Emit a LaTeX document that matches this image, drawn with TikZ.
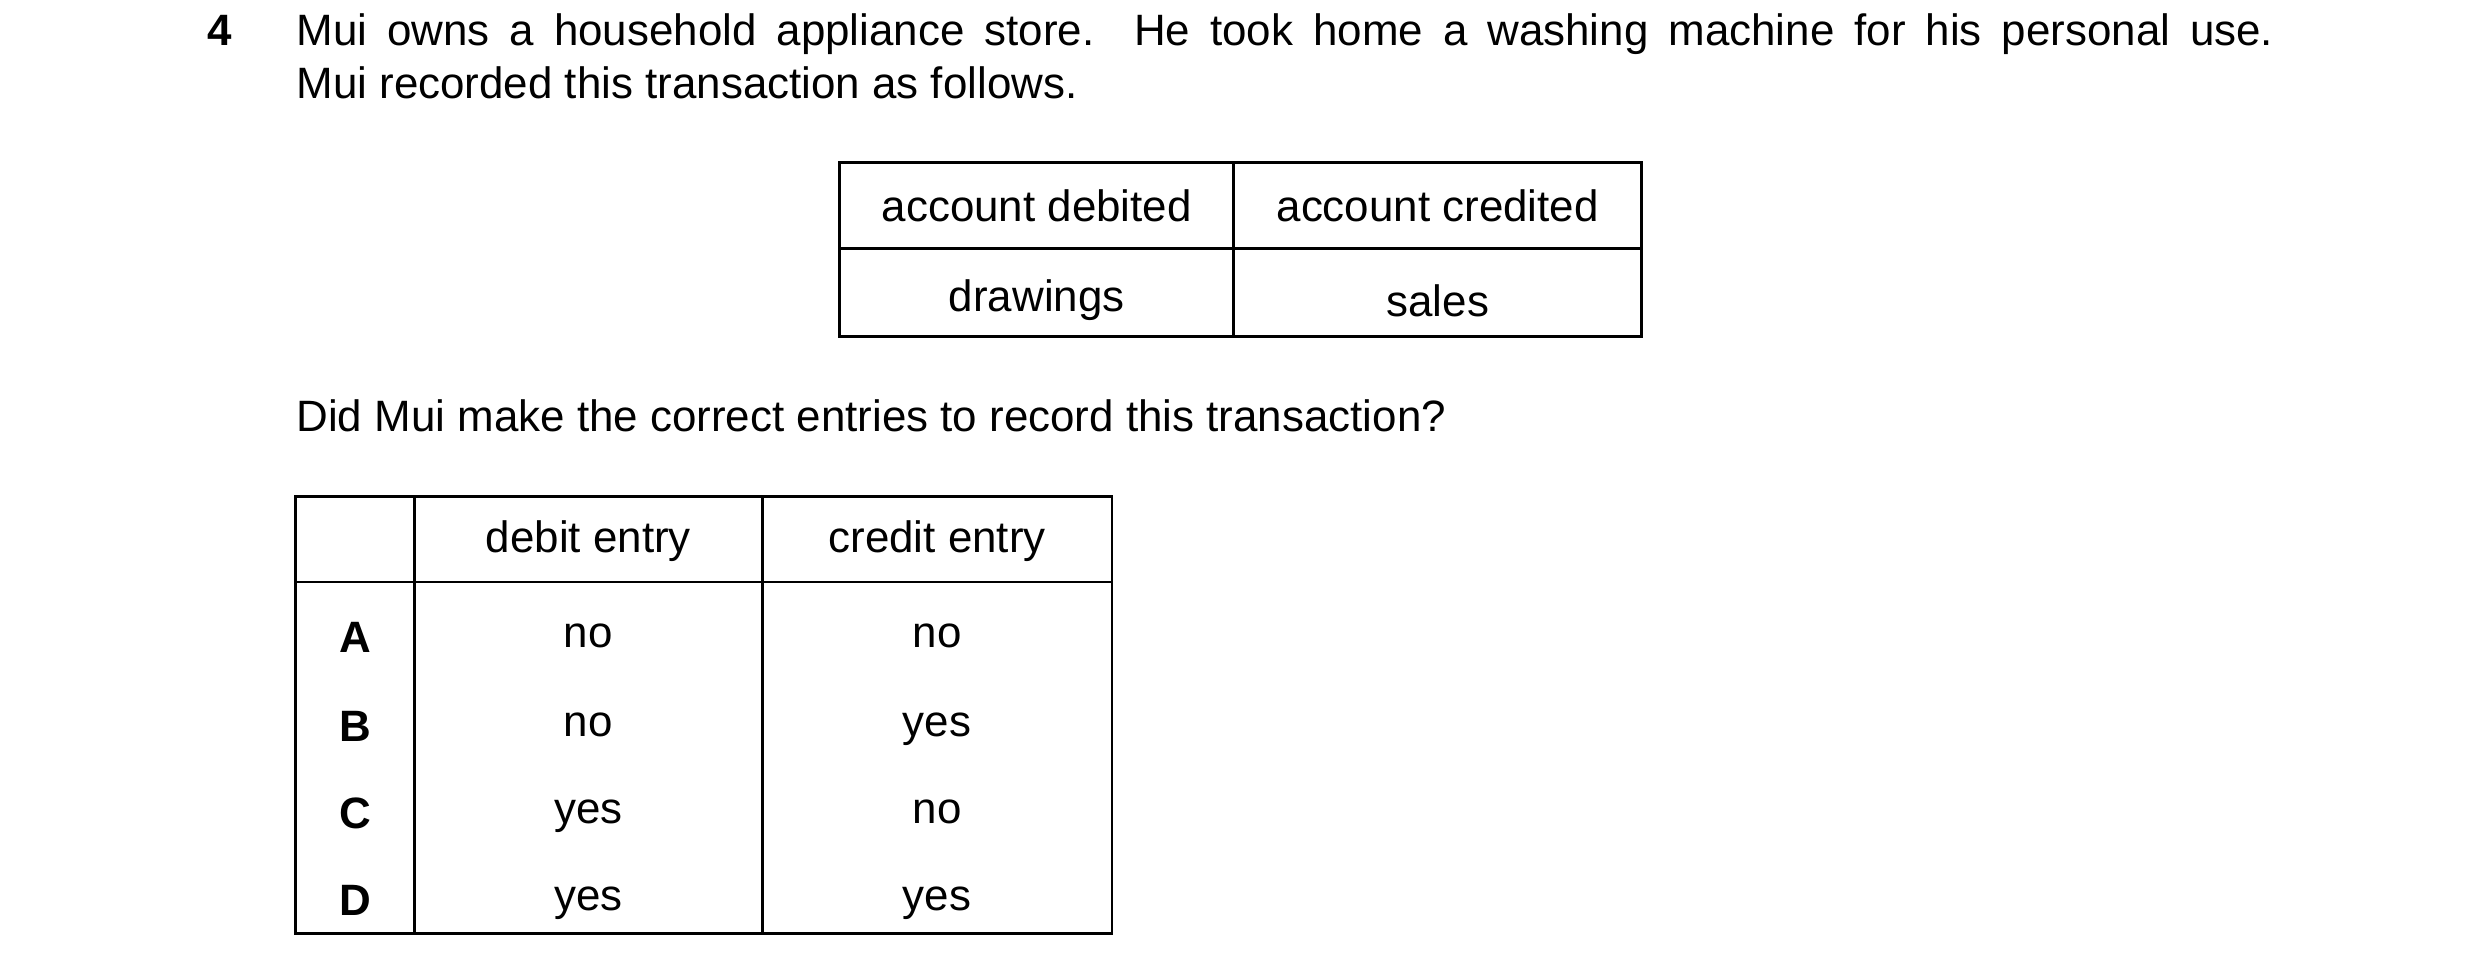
\documentclass[tikz,border=0pt]{standalone}
\usepackage{fontspec}
\setmainfont{Liberation Sans}
\usetikzlibrary{positioning}
\begin{document}
\begin{tikzpicture}[x=0.01582cm, y=-0.01582cm, font=\fontsize{12.5}{15}\selectfont,
    cell/.style={inner sep=0pt, anchor=center},
    grid/.style={line width=0.8pt}]
  \useasboundingbox (0,0) rectangle (1568,616);

  % question text
  \node[anchor=base west, inner sep=0pt, font=\fontsize{12.5}{15}\selectfont\bfseries] (num) at (131,29) {4};
  \node[anchor=base west, inner sep=0pt] (line1) at (187,29)
    {\makebox[1250\dimexpr0.01582cm\relax][s]{Mui owns a household appliance store. He took home a washing machine for his personal use.}};
  \node[anchor=base west, inner sep=0pt] (line2) at (187,62) {Mui recorded this transaction as follows.};

  % first table
  \draw[grid] (531,103) rectangle (1038,213);
  \draw[grid] (531,157) -- (1038,157);
  \draw[grid] (780,103) -- (780,213);
  \node[cell] (deb) at (655.5,130) {account debited};
  \node[cell] (cred) at (909,130) {account credited};
  \node[cell] (draw) at (655.5,190) {drawings};
  \node[cell] (sales) at (909,190) {sales};

  \node[anchor=base west, inner sep=0pt] (ask) at (187,273) {Did Mui make the correct entries to record this transaction?};

  % options table
  \draw[grid] (187,314) rectangle (703,590);
  \draw[grid] (187,368) -- (703,368);
  \draw[grid] (262,314) -- (262,590);
  \draw[grid] (482,314) -- (482,590);
  \node[cell] (hd) at (372,342) {debit entry};
  \node[cell] (hc) at (592.5,342) {credit entry};
  \foreach \k/\y/\d/\c in {A/403/no/no, B/459/no/yes, C/514/yes/no, D/569/yes/yes}{
    \node[cell, font=\fontsize{12.5}{15}\selectfont\bfseries] (opt\k) at (224.5,\y) {\k};
    \node[cell] (d\k) at (372,\y) {\strut\d};
    \node[cell] (c\k) at (592.5,\y) {\strut\c};
  }
\end{tikzpicture}
\end{document}
